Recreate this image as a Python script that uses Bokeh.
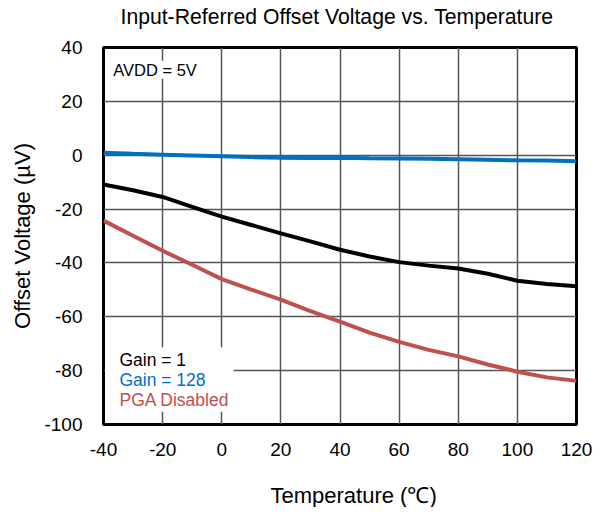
from bokeh.plotting import figure
from bokeh.models import Label, BoxAnnotation, Range1d, FixedTicker, Title
from bokeh.embed import file_html
from bokeh.resources import INLINE

temps = [-40, -30, -20, -10, 0, 10, 20, 30, 40, 50, 60, 70, 80, 90, 100, 110, 120]
gain_1 = [-10.9, -13.0, -15.5, -19.2, -22.8, -25.9, -29.0, -32.0, -35.1, -37.6, -39.7, -41.0, -42.1, -44.0, -46.6, -47.8, -48.7]
gain_128 = [0.9, 0.5, 0.2, -0.1, -0.4, -0.7, -0.9, -1.0, -0.9, -1.1, -1.2, -1.3, -1.5, -1.7, -1.9, -2.0, -2.2]
pga_disabled = [-24.3, -29.9, -35.5, -40.7, -46.0, -49.9, -53.6, -57.9, -61.8, -65.9, -69.3, -72.3, -74.7, -77.7, -80.4, -82.5, -83.8]

x_ticks = [-40, -20, 0, 20, 40, 60, 80, 100, 120]
x_tick_labels = ["-40", "-20", "0", "20", "40", "60", "80", "100", "120"]
y_ticks = [-100, -80, -60, -40, -20, 0, 20, 40]
y_tick_labels = ["-100", "-80", "-60", "-40", "-20", "0", "20", "40"]

TITLE = "Input-Referred Offset Voltage vs. Temperature"
X_LABEL = "Temperature (℃)"
Y_LABEL = "Offset Voltage (µV)"
FONT = "Liberation Sans"
FW, FH = 473, 377

p = figure(frame_width=FW, frame_height=FH, output_backend="svg", toolbar_location=None,
           x_range=Range1d(-40, 120), y_range=Range1d(-100, 40),
           min_border_left=103, min_border_right=20, min_border_top=47, min_border_bottom=83)

# spacer panel between the frame and the title, then the title itself
p.add_layout(Title(text=" ", text_font_size="1px", standoff=17), "above")
p.add_layout(Title(text=TITLE, text_font=FONT, text_font_size="21.2px", text_font_style="normal",
                   text_color="black", align="left", offset=17, standoff=0), "above")

p.outline_line_color = "black"
p.outline_line_width = 3
p.background_fill_color = "white"
p.border_fill_color = "white"

for ax in (p.xaxis[0], p.yaxis[0]):
    ax.axis_line_color = None
    ax.major_tick_line_color = None
    ax.minor_tick_line_color = None
    ax.major_tick_out = 0
    ax.major_tick_in = 0
    ax.major_label_text_font = FONT
    ax.major_label_text_font_size = "19px"
    ax.major_label_text_color = "black"
    ax.axis_label_text_font = FONT
    ax.axis_label_text_font_size = "22px"
    ax.axis_label_text_font_style = "normal"
    ax.axis_label_text_color = "black"

p.xaxis.ticker = FixedTicker(ticks=x_ticks)
p.yaxis.ticker = FixedTicker(ticks=y_ticks)
p.xaxis.major_label_overrides = dict(zip(x_ticks, x_tick_labels))
p.yaxis.major_label_overrides = dict(zip(y_ticks, y_tick_labels))
p.yaxis.axis_label = Y_LABEL
p.xaxis.major_label_standoff = 18
p.yaxis.major_label_standoff = 21
p.yaxis.axis_label_standoff = 6

# x-axis title: spacer, then the label (placed slightly right of centre, as in the original)
p.add_layout(Title(text=" ", text_font_size="1px", standoff=19), "below")
p.add_layout(Title(text=X_LABEL, text_font=FONT, text_font_size="22px", text_font_style="normal",
                   text_color="black", align="left", offset=167, standoff=0), "below")

p.grid.grid_line_color = "#555555"
p.grid.grid_line_width = 1.5
p.xgrid.ticker = FixedTicker(ticks=x_ticks)
p.ygrid.ticker = FixedTicker(ticks=y_ticks)

p.line(temps, gain_1, line_color="black", line_width=4)
p.line(temps, gain_128, line_color="#0070C0", line_width=4)
p.line(temps, pga_disabled, line_color="#C0504D", line_width=4)

p.add_layout(BoxAnnotation(left=-39.4, right=4, top=-71.3, bottom=-95.3,
                           fill_color="white", fill_alpha=1.0, line_color=None))

p.add_layout(Label(x=-36.7, y=31.7, text="AVDD = 5V", text_font=FONT, text_font_size="16.5px",
                   text_color="black", text_baseline="middle",
                   background_fill_color="white", background_fill_alpha=1.0))

legend_items = [("Gain = 1", "black", -76.2), ("Gain = 128", "#0070C0", -83.5), ("PGA Disabled", "#C0504D", -90.9)]
for txt, col, yy in legend_items:
    p.add_layout(Label(x=-34.6, y=yy, text=txt, text_font=FONT, text_font_size="17.5px",
                       text_color=col, text_baseline="middle"))

open("out.html", "w").write(file_html(p, INLINE))
